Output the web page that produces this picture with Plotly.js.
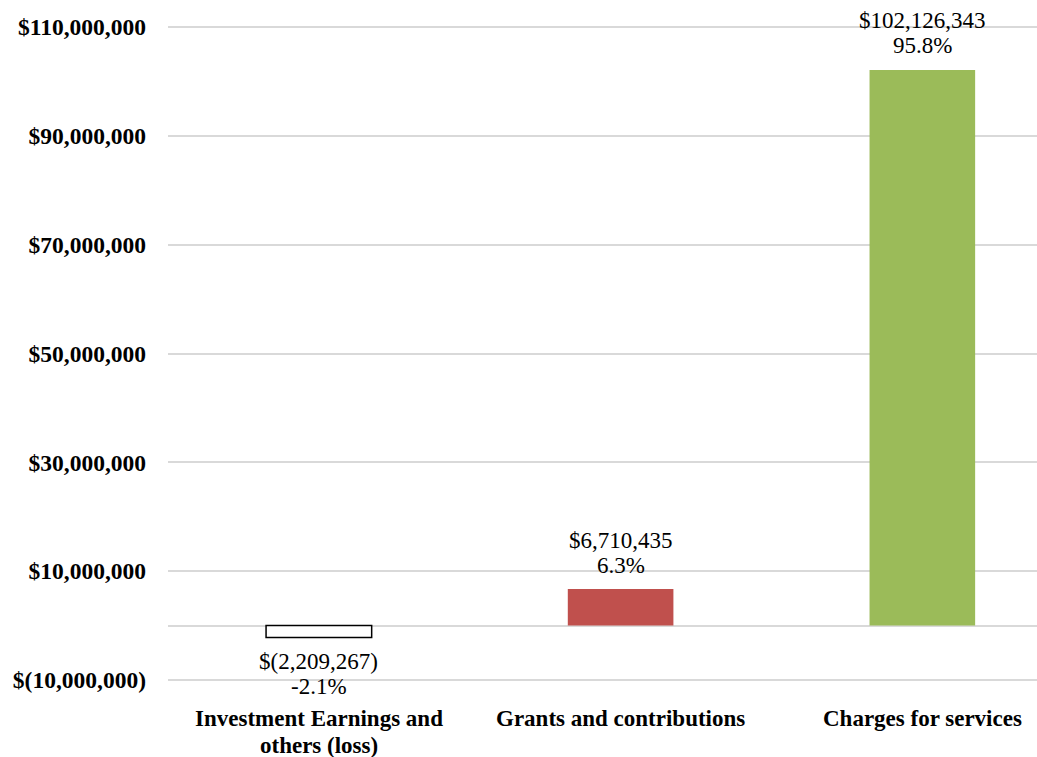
<!DOCTYPE html>
<html>
<head>
<meta charset="utf-8">
<script src="https://cdn.plot.ly/plotly-3.0.1.min.js"></script>
<style>html,body{margin:0;padding:0;background:#fff;}#chart{width:1037px;height:757px;}</style>
</head>
<body>
<div id="chart"></div>
<script>
const categories = ["Investment Earnings and<br>others (loss)", "Grants and contributions", "Charges for services"];
const values = [-2209267, 6710435, 102126343];
const valueLabels = ["$(2,209,267)", "$6,710,435", "$102,126,343"];
const pctLabels = ["-2.1%", "6.3%", "95.8%"];
const barColors = ["#FFFFFF", "#C0504D", "#9BBB59"];
const barLineColors = ["#000000", "#C0504D", "#9BBB59"];
const yTickVals = [-10000000, 10000000, 30000000, 50000000, 70000000, 90000000, 110000000];
const yTickText = ["$(10,000,000)", "$10,000,000", "$30,000,000", "$50,000,000", "$70,000,000", "$90,000,000", "$110,000,000"];

const font = "Liberation Serif, Times New Roman, serif";
const xIdx = categories.map((c, i) => i);

const trace = {
  type: "bar",
  x: xIdx,
  y: values,
  width: 0.35,
  marker: { color: barColors, line: { color: barLineColors, width: [1.5, 0, 0] } },
  cliponaxis: false,
  hoverinfo: "none"
};

const annotations = [];
values.forEach((v, i) => {
  const pos = v >= 0;
  // value line is the outer line above positive bars, the inner line below negative bars
  annotations.push({ x: i, y: v, xref: "x", yref: "y", text: pctLabels[i], showarrow: false,
    yanchor: "middle", yshift: pos ? 24 : -49, font: { family: font, size: 23, color: "#000" } });
  annotations.push({ x: i, y: v, xref: "x", yref: "y", text: valueLabels[i], showarrow: false,
    yanchor: "middle", yshift: pos ? 49 : -24, font: { family: font, size: 23, color: "#000" } });
});
categories.forEach((c, i) => {
  c.split("<br>").forEach((line, j) => {
    annotations.push({ x: i, y: 0, xref: "x", yref: "paper", text: line, showarrow: false,
      yanchor: "middle", yshift: -37 - 27 * j,
      font: { family: font, size: 23, color: "#000", weight: "bold" } });
  });
});

const layout = {
  width: 1037, height: 757,
  margin: { l: 168, r: 0, t: 26, b: 76 },
  paper_bgcolor: "#fff", plot_bgcolor: "#fff",
  showlegend: false,
  bargap: 0,
  xaxis: {
    range: [-0.5, 2.38],
    showticklabels: false,
    showgrid: false, zeroline: false, showline: false,
    ticks: ""
  },
  yaxis: {
    range: [-10200000, 110200000],
    tickvals: yTickVals,
    ticktext: yTickText,
    showgrid: true, gridcolor: "#d9d9d9", gridwidth: 2,
    zeroline: true, zerolinecolor: "#d9d9d9", zerolinewidth: 2,
    showline: false, ticks: "",
    ticklabelstandoff: 21,
    tickfont: { family: font, size: 23.5, color: "#000", weight: "bold" }
  },
  annotations: annotations
};

Plotly.newPlot("chart", [trace], layout, { displayModeBar: false, staticPlot: true });
</script>
</body>
</html>
